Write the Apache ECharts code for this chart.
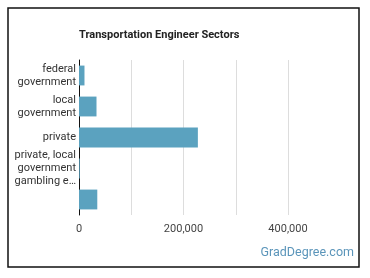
<!DOCTYPE html>
<html>
<head>
<meta charset="utf-8">
<script src="https://cdn.jsdelivr.net/npm/echarts@6/dist/echarts.min.js"></script>
<style>
  html, body { margin: 0; padding: 0; background: #fff; }
  #chart { width: 370px; height: 278px; }
</style>
</head>
<body>
<div id="chart"></div>
<script>
// sectors (the 4th label carries the wrapped text as shown in the picture)
const sectors = [
  "federal\ngovernment",
  "local\ngovernment",
  "private",
  "private, local\ngovernment\ngambling e\u2026",
  ""
];
const employed = [10500, 33500, 227500, 1500, 35000];
const xTicks = [0, 200000, 400000];

let chart = echarts.init(document.getElementById("chart"), null, { renderer: "canvas" });

function fmt(v) {
  return v.toString().replace(/\B(?=(\d{3})+(?!\d))/g, ",");
}

let option = {
  animation: false,
  title: {
    text: "Transportation Engineer Sectors",
    left: 79,
    top: 30,
    padding: 0,
    textStyle: { fontFamily: "Roboto", fontSize: 11, fontWeight: "bold", color: "#222" }
  },
  grid: { left: 79, right: 82, top: 60, bottom: 63, containLabel: false },
  xAxis: {
    type: "value",
    min: 0,
    max: 400000,
    interval: 100000,
    axisLine: { show: false },
    axisTick: { show: false },
    splitLine: { lineStyle: { color: "#ddd", width: 1 } },
    axisLabel: {
      margin: 9,
      fontFamily: "Roboto",
      fontSize: 11,
      color: "#444",
      formatter: function (v) {
        return xTicks.indexOf(v) >= 0 ? fmt(v) : "";
      }
    }
  },
  yAxis: {
    type: "category",
    inverse: true,
    data: sectors,
    axisLine: { lineStyle: { color: "#111", width: 1 } },
    axisTick: { show: false },
    axisLabel: {
      margin: 3,
      fontFamily: "Roboto",
      fontSize: 11,
      lineHeight: 13,
      color: "#333"
    }
  },
  series: [{
    type: "bar",
    data: employed,
    barCategoryGap: "36%",
    itemStyle: { color: "#5ba2bf" }
  }],
  graphic: [
    {
      type: "rect",
      shape: { x: 8, y: 8, width: 351, height: 259 },
      style: { fill: "none", stroke: "#111", lineWidth: 1.5 },
      silent: true
    },
    {
      type: "text",
      right: 16,
      top: 246,
      style: {
        text: "GradDegree.com",
        fontFamily: "Roboto",
        fontSize: 12.5,
        fill: "#5b95ba"
      }
    }
  ]
};
chart.setOption(option);
</script>
</body>
</html>
